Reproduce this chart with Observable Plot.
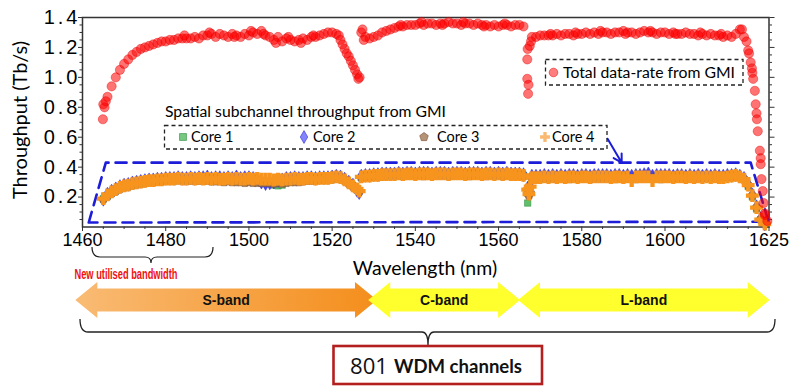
<!DOCTYPE html>
<html><head><meta charset="utf-8">
<script src="https://cdn.jsdelivr.net/npm/d3@7"></script>
<script src="https://cdn.jsdelivr.net/npm/@observablehq/plot@0.6"></script>
<style>body{margin:0;background:#fff}#chart{width:800px;height:388px}</style>
</head><body><div id="chart"></div>
<script>
// ---------- data ----------
const wavelength = [
1465,1466,1467,1468,1469,1470,1471,1472,1473,1474,
1475,1476,1477,1478,1479,1480,1481,1482,1483,1484,
1485,1486,1487,1488,1489,1490,1491,1492,1493,1494,
1495,1496,1497,1498,1499,1500,1501,1502,1503,1504,
1505,1506,1507,1508,1509,1510,1511,1512,1513,1514,
1515,1516,1517,1518,1519,1520,1521,1522,1523,1524,
1525,1526,1527,1528,1529,1530,1531,1532,1533,1534,
1535,1536,1537,1538,1539,1540,1541,1542,1543,1544,
1545,1546,1547,1548,1549,1550,1551,1552,1553,1554,
1555,1556,1557,1558,1559,1560,1561,1562,1563,1564,
1565,1566,1567,1568,1569,1570,1571,1572,1573,1574,
1575,1576,1577,1578,1579,1580,1581,1582,1583,1584,
1585,1586,1587,1588,1589,1590,1591,1592,1593,1594,
1595,1596,1597,1598,1599,1600,1601,1602,1603,1604,
1605,1606,1607,1608,1609,1610,1611,1612,1613,1614,
1615,1616,1617,1618,1619,1620,1621,1622,1623,1624];

const totalRate = [
0.82,0.87,0.94,1.00,1.05,1.09,1.12,1.15,1.17,1.19,
1.20,1.21,1.22,1.23,1.24,1.24,1.25,1.25,1.26,1.26,
1.26,1.26,1.27,1.26,1.28,1.28,1.29,1.27,1.29,1.28,
1.27,1.29,1.28,1.27,1.29,1.28,1.30,1.29,1.31,1.28,
1.27,1.25,1.27,1.24,1.26,1.25,1.24,1.25,1.26,1.25,
1.27,1.27,1.28,1.29,1.30,1.30,1.29,1.25,1.19,1.14,
1.08,1.02,1.30,1.27,1.26,1.27,1.28,1.30,1.31,1.32,
1.33,1.34,1.34,1.35,1.35,1.35,1.36,1.35,1.36,1.36,
1.35,1.36,1.36,1.37,1.36,1.36,1.35,1.36,1.36,1.35,
1.36,1.35,1.35,1.34,1.35,1.34,1.35,1.35,1.34,1.35,
1.35,1.34,1.19,1.27,1.27,1.28,1.28,1.28,1.28,1.29,
1.28,1.29,1.29,1.28,1.29,1.29,1.30,1.29,1.30,1.29,
1.30,1.30,1.29,1.30,1.30,1.31,1.30,1.30,1.29,1.30,
1.31,1.30,1.30,1.29,1.30,1.30,1.29,1.30,1.29,1.29,
1.30,1.29,1.29,1.28,1.29,1.28,1.29,1.28,1.28,1.27,
1.28,1.27,1.29,1.32,1.27,1.18,1.03,0.76,0.46,0.09];

// extra individual channels (edges, scatter and drops)
const totalExtraWl = [1464.9,1465.3,1465.6,1521.6,1522.5,1523.5,1524.5,1525.5,1526.3,1526.6,1527.3,1527.6,
1566.9,1566.9,1567.2,1567.1,1567.5,1567.8,1618.5,1619.6,1620.2,1620.6,1620.9,1621.2,1621.6,1621.8,
1622.1,1622.3,1622.8,1623.0,1623.2,1623.5,1623.7,1624.0,1624.6,
1484.5,1490.5,1496.5,1500.5,1503.5,1506.5,1509.5,1512.5,1515.5,1536.5,1541.5,1546.5,1551.5,1556.5,1561.5,
1572.5,1578.5,1584.5,1590.5,1596.5,1602.5,1608.5,1613.5];
const totalExtra = [0.72,0.80,0.84,1.28,1.22,1.16,1.11,1.05,0.99,1.00,1.32,1.25,
1.12,0.99,0.95,0.89,1.21,1.24,1.32,1.24,1.16,1.10,1.06,0.99,0.91,0.82,
0.72,0.64,0.51,0.42,0.32,0.24,0.16,0.08,0.04,
1.28,1.30,1.27,1.31,1.29,1.23,1.27,1.23,1.28,1.35,1.37,1.35,1.37,1.34,1.36,
1.29,1.30,1.31,1.29,1.31,1.29,1.30,1.29];

const core1 = [
0.19,0.21,0.23,0.245,0.26,0.27,0.275,0.285,0.29,0.295,
0.30,0.305,0.305,0.31,0.31,0.315,0.315,0.315,0.32,0.315,
0.315,0.32,0.315,0.32,0.315,0.32,0.315,0.32,0.315,0.315,
0.315,0.315,0.315,0.31,0.31,0.31,0.31,0.31,0.305,0.30,
0.29,0.28,0.275,0.28,0.30,0.31,0.315,0.315,0.315,0.32,
0.32,0.32,0.32,0.32,0.32,0.325,0.325,0.325,0.31,0.295,
0.275,0.255,0.33,0.335,0.34,0.34,0.34,0.345,0.345,0.35,
0.35,0.35,0.345,0.35,0.35,0.35,0.35,0.345,0.35,0.35,
0.35,0.35,0.35,0.345,0.35,0.35,0.35,0.35,0.35,0.345,
0.35,0.35,0.345,0.35,0.35,0.35,0.345,0.35,0.35,0.35,
0.35,0.345,0.16,0.325,0.325,0.325,0.33,0.33,0.33,0.33,
0.33,0.33,0.325,0.33,0.33,0.33,0.33,0.33,0.325,0.33,
0.33,0.33,0.33,0.33,0.325,0.33,0.33,0.33,0.33,0.33,
0.33,0.33,0.33,0.325,0.33,0.33,0.33,0.33,0.33,0.33,
0.33,0.33,0.325,0.33,0.33,0.33,0.33,0.33,0.33,0.33,
0.33,0.33,0.335,0.33,0.315,0.27,0.20,0.12,0.05,0.02];

const core2 = [
0.185,0.22,0.24,0.255,0.27,0.28,0.285,0.295,0.30,0.305,
0.31,0.315,0.315,0.32,0.32,0.325,0.325,0.325,0.33,0.325,
0.325,0.33,0.325,0.33,0.33,0.335,0.325,0.33,0.33,0.325,
0.33,0.325,0.335,0.325,0.33,0.33,0.325,0.32,0.30,0.29,
0.295,0.30,0.31,0.315,0.325,0.325,0.33,0.325,0.325,0.33,
0.33,0.325,0.33,0.33,0.33,0.335,0.34,0.335,0.32,0.30,
0.28,0.245,0.34,0.345,0.345,0.35,0.35,0.355,0.355,0.355,
0.355,0.36,0.355,0.36,0.36,0.355,0.36,0.36,0.36,0.355,
0.36,0.36,0.36,0.355,0.36,0.36,0.36,0.355,0.36,0.36,
0.36,0.355,0.36,0.36,0.355,0.36,0.355,0.36,0.355,0.355,
0.355,0.35,0.26,0.34,0.34,0.34,0.345,0.34,0.345,0.34,
0.345,0.34,0.345,0.345,0.34,0.345,0.345,0.34,0.345,0.345,
0.345,0.345,0.34,0.345,0.345,0.34,0.345,0.34,0.345,0.345,
0.35,0.355,0.34,0.345,0.345,0.345,0.345,0.34,0.345,0.345,
0.34,0.345,0.34,0.345,0.34,0.345,0.34,0.345,0.34,0.34,
0.345,0.345,0.35,0.34,0.325,0.285,0.215,0.135,0.055,0.02];

const core3 = [
0.185,0.205,0.225,0.24,0.255,0.265,0.27,0.28,0.285,0.29,
0.295,0.30,0.30,0.305,0.305,0.31,0.31,0.31,0.315,0.31,
0.31,0.31,0.31,0.31,0.31,0.31,0.305,0.305,0.305,0.30,
0.305,0.30,0.30,0.30,0.295,0.30,0.295,0.295,0.295,0.295,
0.295,0.29,0.295,0.29,0.295,0.30,0.30,0.30,0.305,0.31,
0.31,0.31,0.315,0.315,0.32,0.32,0.325,0.325,0.31,0.29,
0.27,0.25,0.33,0.335,0.335,0.34,0.34,0.345,0.345,0.345,
0.345,0.345,0.34,0.345,0.345,0.345,0.345,0.34,0.345,0.345,
0.345,0.345,0.345,0.34,0.345,0.345,0.345,0.345,0.34,0.345,
0.345,0.345,0.34,0.345,0.345,0.345,0.34,0.345,0.345,0.345,
0.345,0.34,0.225,0.32,0.32,0.325,0.325,0.325,0.325,0.325,
0.325,0.325,0.32,0.325,0.325,0.325,0.325,0.32,0.325,0.325,
0.325,0.325,0.325,0.32,0.325,0.325,0.325,0.325,0.32,0.325,
0.325,0.325,0.325,0.325,0.32,0.325,0.325,0.325,0.325,0.325,
0.325,0.325,0.325,0.325,0.33,0.33,0.33,0.335,0.335,0.34,
0.34,0.345,0.35,0.34,0.32,0.28,0.21,0.13,0.05,0.02];

const core4 = [
0.19,0.215,0.235,0.25,0.265,0.275,0.28,0.29,0.295,0.30,
0.305,0.31,0.31,0.315,0.315,0.32,0.32,0.32,0.325,0.32,
0.32,0.325,0.32,0.325,0.32,0.325,0.32,0.325,0.32,0.32,
0.325,0.32,0.325,0.32,0.32,0.325,0.32,0.325,0.32,0.32,
0.32,0.315,0.32,0.315,0.32,0.32,0.325,0.32,0.32,0.325,
0.325,0.32,0.325,0.325,0.325,0.33,0.335,0.33,0.315,0.295,
0.275,0.255,0.335,0.34,0.34,0.345,0.345,0.35,0.35,0.35,
0.35,0.355,0.35,0.355,0.355,0.35,0.355,0.355,0.355,0.35,
0.355,0.355,0.355,0.35,0.355,0.355,0.355,0.35,0.355,0.355,
0.355,0.35,0.355,0.355,0.35,0.355,0.35,0.355,0.35,0.35,
0.35,0.345,0.25,0.33,0.33,0.33,0.335,0.33,0.335,0.33,
0.335,0.33,0.335,0.335,0.33,0.335,0.335,0.33,0.335,0.335,
0.335,0.335,0.33,0.335,0.335,0.33,0.335,0.31,0.335,0.335,
0.335,0.335,0.31,0.335,0.335,0.335,0.335,0.33,0.335,0.335,
0.33,0.335,0.33,0.335,0.33,0.335,0.33,0.335,0.33,0.33,
0.335,0.34,0.345,0.335,0.32,0.28,0.21,0.13,0.05,0.02];

const coreExtraWl = [1526.5,1567.3,1567.6];
const core2Extra = [0.23,0.24,0.27];
const core3Extra = [0.235,0.21,0.23];
const core4Extra = [0.24,0.22,0.27];

const xTicks = [1460,1480,1500,1520,1540,1560,1580,1600,1625];
const xMinorTicks = [1465,1470,1475,1485,1490,1495,1505,1510,1515,1525,1530,1535,1545,1550,1555,1565,1570,1575,1585,1590,1595,1605,1610,1615,1620];
const yTicks = [0.2,0.4,0.6,0.8,1.0,1.2,1.4];
const yMinorTicks = [0.05,0.1,0.15,0.25,0.3,0.35,0.45,0.5,0.55,0.65,0.7,0.75,0.85,0.9,0.95,1.05,1.1,1.15,1.25,1.3,1.35];
const coreNames = ["Core 1","Core 2","Core 3","Core 4"];
const bandNames = ["S-band","C-band","L-band"];
const bandRanges = [[1458.4,1530.9],[1528.8,1565.3],[1564.8,1625.3]];
const enclosureWl = [1461.5,1465.6,1620.6,1624.9,1461.5];
const enclosureV = [0.03,0.43,0.43,0.035,0.03];
const arrowPts = [{x1:1586.2,y1:0.59,x2:1589.6,y2:0.43}];

// ---------- tables ----------
const totalRows = wavelength.map((w,i)=>({w, v: totalRate[i]}))
  .concat(totalExtraWl.map((w,i)=>({w, v: totalExtra[i]})));
const mk = (arr, extra) => wavelength.map((w,i)=>({w, v: arr[i]}))
  .concat(extra ? coreExtraWl.map((w,i)=>({w, v: extra[i]})) : []);
const c1Rows = mk(core1), c2Rows = mk(core2, core2Extra), c3Rows = mk(core3, core3Extra), c4Rows = mk(core4, core4Extra);
const encRows = enclosureWl.map((w,i)=>({w, v: enclosureV[i]}));

const pentagon = {draw(ctx, size){ const r = Math.sqrt(size/2.378);
  for(let i=0;i<5;i++){const a=-Math.PI/2+i*2*Math.PI/5; const x=r*Math.cos(a), y=r*Math.sin(a); i?ctx.lineTo(x,y):ctx.moveTo(x,y);} ctx.closePath(); }};

const coreStyle = [
  {symbol:"square", fill:"#5fbf6a", stroke:"#2e8b3e"},
  {symbol:"diamond", fill:"#4646ea", stroke:"#2a2ad0"},
  {symbol:pentagon, fill:"#9c7452", stroke:"#7a5238"},
  {symbol:"cross", fill:"#f7941d", stroke:"none"}
];

const chart = Plot.plot({
  width: 800, height: 388,
  marginLeft: 82, marginRight: 31.5, marginTop: 17, marginBottom: 161.5,
  style: {fontFamily: "'Liberation Sans', Arial, sans-serif", background: "white", color: "#000", overflow: "visible"},
  x: {domain: [1460, 1625], label: null},
  y: {domain: [0, 1.4], label: null},
  marks: [
    Plot.axisX({ticks: xMinorTicks, tickSize: 2.5, tickFormat: () => "", label: null, stroke: "#333"}),
    Plot.axisX({ticks: xTicks, tickSize: 4.5, tickPadding: 2, fontSize: 18, tickFormat: d3.format("d"), label: null, stroke: "#333"}),
    Plot.axisY({ticks: yMinorTicks, tickSize: 2.5, tickFormat: () => "", label: null, stroke: "#333"}),
    Plot.axisY({ticks: yTicks, tickSize: 4, tickPadding: 1, fontSize: 20, tickFormat: d3.format(".1f"), label: null, stroke: "#333"}),
    Plot.axisY({anchor: "right", ticks: yMinorTicks, tickSize: 2.5, tickFormat: () => "", label: null, stroke: "#333"}),
    Plot.axisY({anchor: "right", ticks: yTicks, tickSize: 5, tickFormat: () => "", label: null, stroke: "#333"}),
    Plot.frame({stroke: "#333", strokeWidth: 1.5}),
    Plot.line(encRows, {x: "w", y: "v", stroke: "#1c1cd9", strokeWidth: 2.6, strokeDasharray: "11,7"}),
    Plot.arrow(arrowPts, {x1: "x1", y1: "y1", x2: "x2", y2: "y2", stroke: "#1c1cd9", strokeWidth: 2, headLength: 7}),
    Plot.dot(c1Rows, {x: "w", y: "v", r: 3.6, symbol: coreStyle[0].symbol, fill: coreStyle[0].fill, stroke: coreStyle[0].stroke, strokeWidth: 0.5}),
    Plot.dot(c2Rows, {x: "w", y: "v", r: 4.2, symbol: coreStyle[1].symbol, fill: coreStyle[1].fill, stroke: coreStyle[1].stroke, strokeWidth: 0.5}),
    Plot.dot(c3Rows, {x: "w", y: "v", r: 4.0, symbol: coreStyle[2].symbol, fill: coreStyle[2].fill, stroke: coreStyle[2].stroke, strokeWidth: 0.5}),
    Plot.dot(c4Rows, {x: "w", y: "v", r: 5.4, symbol: coreStyle[3].symbol, fill: coreStyle[3].fill}),
    Plot.dot(totalRows, {x: "w", y: "v", r: 4.6, fill: "#ff0000", fillOpacity: 0.55, stroke: "#e00000", strokeOpacity: 0.5, strokeWidth: 0.8})
  ]
});
document.getElementById("chart").appendChild(chart);

// widen y tick labels slightly to match the reference typeface
d3.select(chart).selectAll('g[aria-label="y-axis tick label"] text')
  .style("letter-spacing","3px").attr("dx","3");

// ---------- annotations ----------
const X = chart.scale("x").apply;
const svg = d3.select(chart);
const g = svg.append("g").attr("text-anchor","start");
const calibri = "Lato, 'Open Sans', sans-serif";

// y label
g.append("text").attr("transform","translate(27,120) rotate(-90)").attr("text-anchor","middle")
  .attr("font-family",calibri).attr("font-size",20).attr("fill","#000").text("Throughput (Tb/s)");
// x label
g.append("text").attr("x",425).attr("y",275).attr("text-anchor","middle")
  .attr("font-family",calibri).attr("font-size",19.5).attr("fill","#000").text("Wavelength (nm)");

// total legend
g.append("rect").attr("x",545.5).attr("y",59.5).attr("width",197.5).attr("height",25.5)
  .attr("fill","white").attr("stroke","#222").attr("stroke-width",1.3).attr("stroke-dasharray","4,3");
g.append("circle").attr("cx",553.5).attr("cy",72.5).attr("r",4.3).attr("fill","#ff0000").attr("fill-opacity",0.5).attr("stroke","#e00000").attr("stroke-opacity",0.5);
g.append("text").attr("x",563).attr("y",78).attr("text-anchor","start").attr("font-family",calibri).attr("font-size",15.5).attr("fill","#000")
  .attr("textLength",172).attr("lengthAdjust","spacingAndGlyphs").text("Total data-rate from GMI");

// core legend
g.append("text").attr("x",165).attr("y",117).attr("text-anchor","start").attr("font-family",calibri).attr("font-size",15.5).attr("fill","#000")
  .attr("textLength",281).attr("lengthAdjust","spacingAndGlyphs").text("Spatial subchannel throughput from GMI");
g.append("rect").attr("x",164.5).attr("y",125.5).attr("width",442.5).attr("height",23.5)
  .attr("fill","none").attr("stroke","#222").attr("stroke-width",1.3).attr("stroke-dasharray","4,3");
const legX = [183, 304, 424, 545];
const legTX = [191, 313, 437, 552];
const d3Sym = [d3.symbolSquare, d3.symbolDiamond, pentagon, d3.symbolCross];
const legFill = ["#5fbf6a","#6e6eff","#a8805f","#f9ad5a"];
coreNames.forEach((name,i)=>{
  g.append("path").attr("transform",`translate(${legX[i]},137)`)
    .attr("d", d3.symbol().type(d3Sym[i]).size(i===3?55:48)())
    .attr("fill", legFill[i]).attr("fill-opacity",0.85)
    .attr("stroke", coreStyle[i].stroke).attr("stroke-width",0.6);
  g.append("text").attr("x",legTX[i]).attr("y",142).attr("text-anchor","start").attr("font-family",calibri).attr("font-size",14.5).attr("fill","#000").text(name);
});

// small brace
function brace(x0,x1,xm,y0,yb,yt){
  return `M${x0},${y0} Q${x0},${yb} ${x0+8},${yb} L${xm-6},${yb} Q${xm},${yb} ${xm},${yt} Q${xm},${yb} ${xm+6},${yb} L${x1-8},${yb} Q${x1},${yb} ${x1},${y0}`;
}
g.append("path").attr("d",brace(92,213,151,247,257,263)).attr("fill","none").attr("stroke","#222").attr("stroke-width",1.2);
g.append("text").attr("x",126).attr("y",278.5).attr("text-anchor","middle").attr("font-family","'Liberation Sans Narrow','Liberation Sans',Arial,sans-serif")
  .attr("font-weight","bold").attr("font-size",15).attr("fill","#ee1111").attr("textLength",103).attr("lengthAdjust","spacingAndGlyphs").text("New utilised bandwidth");

// band arrows
const defs = svg.append("defs");
const grad = defs.append("linearGradient").attr("id","sgrad").attr("x1","0").attr("x2","1").attr("y1","0").attr("y2","0");
grad.append("stop").attr("offset","0").attr("stop-color","#f9bb74");
grad.append("stop").attr("offset","1").attr("stop-color","#f48e1c");
const yc = 300, hh = 18, sh = 11.5, hl = 22;
const bandFill = ["url(#sgrad)","#ffff2e","#ffff2e"];
bandRanges.forEach(([a,b],i)=>{
  const xa = X(a), xb = X(b);
  const pts = [[xa,yc],[xa+hl,yc-hh],[xa+hl,yc-sh],[xb-hl,yc-sh],[xb-hl,yc-hh],[xb,yc],[xb-hl,yc+hh],[xb-hl,yc+sh],[xa+hl,yc+sh],[xa+hl,yc+hh]];
  g.append("path").attr("d","M"+pts.map(p=>p.join(",")).join("L")+"Z").attr("fill",bandFill[i]);
  g.append("text").attr("x",(xa+xb)/2).attr("y",305).attr("text-anchor","middle").attr("font-family","'Liberation Sans',Arial,sans-serif")
    .attr("font-weight","bold").attr("font-size",14).attr("fill","#111").text(bandNames[i]);
});

// big brace
g.append("path").attr("d",brace(80,775,428,319,332,345)).attr("fill","none").attr("stroke","#222").attr("stroke-width",1.3);

// WDM channels box
g.append("rect").attr("x",333.5).attr("y",346).attr("width",208.5).attr("height",38).attr("fill","white").attr("stroke","#b41e1e").attr("stroke-width",2.6);
g.append("text").attr("x",350).attr("y",374).attr("text-anchor","start").attr("font-family","'Open Sans','DejaVu Sans',sans-serif").attr("font-size",22).attr("fill","#111")
  .attr("textLength",38).attr("lengthAdjust","spacingAndGlyphs").text("801");
g.append("text").attr("x",394).attr("y",373).attr("text-anchor","start").attr("font-family",calibri).attr("font-weight","bold").attr("font-size",19.5).attr("fill","#111")
  .attr("textLength",128).attr("lengthAdjust","spacingAndGlyphs").text("WDM channels");
</script>
</body></html>
